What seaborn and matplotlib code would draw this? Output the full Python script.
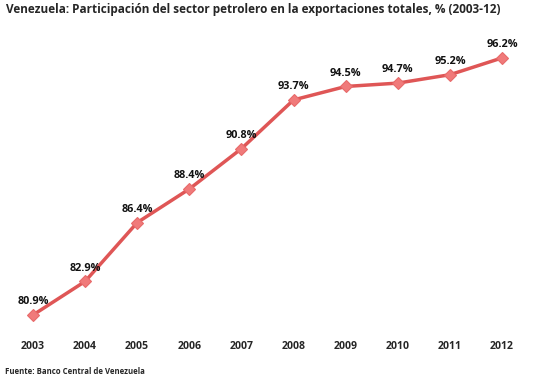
import matplotlib
matplotlib.use("Agg")
import matplotlib.pyplot as plt
import seaborn as sns
import pandas as pd

# -----------------------------
# DATA
# -----------------------------
years = [2003, 2004, 2005, 2006, 2007, 2008, 2009, 2010, 2011, 2012]
share = [80.9, 82.9, 86.4, 88.4, 90.8, 93.7, 94.5, 94.7, 95.2, 96.2]

title = "Venezuela: Participación del sector petrolero en la exportaciones totales, % (2003-12)"
source = "Fuente: Banco Central de Venezuela"

df = pd.DataFrame({"year": years, "share": share})

# -----------------------------
# STYLE
# -----------------------------
sns.set_style("white")
plt.rcParams["font.family"] = ["Open Sans", "DejaVu Sans"]
plt.rcParams["font.weight"] = "bold"

W, H = 533, 389
fig = plt.figure(figsize=(W / 100, H / 100), dpi=100)
ax = fig.add_axes([10 / W, 1 - 330 / H, 515 / W, 300 / H])

line_color = "#DF5656"
sns.lineplot(data=df, x="year", y="share", ax=ax, color=line_color, linewidth=2.5,
             marker="D", markersize=6, markerfacecolor="#F07A7A",
             markeredgecolor="#E86A6A", markeredgewidth=0.8)

for x, y in zip(years, share):
    ax.annotate(f"{y:.1f}%", (x, y), xytext=(0, 9.5), textcoords="offset points",
                ha="center", va="center", fontsize=7.8, fontweight="bold", color="#111111")

ax.set_xlim(2002.56, 2012.44)
ax.set_ylim(80.01, 97.86)
ax.set_xticks(years)
ax.set_xticklabels([str(y) for y in years], fontsize=7.6, fontweight="bold")
ax.set_yticks([])
ax.tick_params(axis="x", length=0, pad=8)
ax.set_xlabel("")
ax.set_ylabel("")
for s in ax.spines.values():
    s.set_visible(False)

fig.text(6 / W, 1 - 10 / H, title, ha="left", va="center", fontsize=8.45, fontweight="bold")
fig.text(5 / W, 1 - 371 / H, source, ha="left", va="center", fontsize=5.55, fontweight="bold")

fig.savefig("out.png", dpi=100)
